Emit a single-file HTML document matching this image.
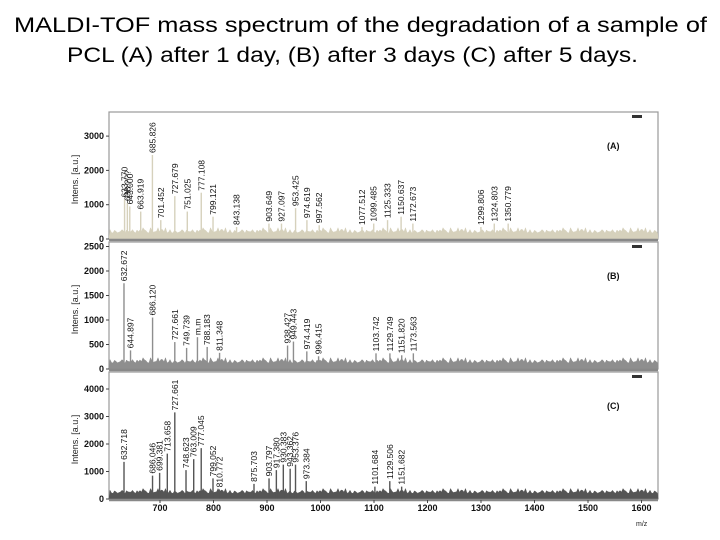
<!DOCTYPE html>
<html><head><meta charset="utf-8"><style>
html,body{margin:0;padding:0;background:#fff;}
svg{display:block;font-family:"Liberation Sans",sans-serif;}
</style></head><body>
<svg id="chart" width="720" height="540" viewBox="0 0 720 540">
<text x="14" y="32" font-size="21" textLength="693" lengthAdjust="spacingAndGlyphs" fill="#000">MALDI-TOF mass spectrum of the degradation of a sample of</text>
<text x="67" y="62" font-size="21" textLength="571" lengthAdjust="spacingAndGlyphs" fill="#000">PCL (A) after 1 day, (B) after 3 days (C) after 5 days.</text>
<g id="plots"></g>
</svg>
<script>
// x-axis ticks (m/z)
const xTicks = [700, 800, 900, 1000, 1100, 1200, 1300, 1400, 1500, 1600];
// panel A (1 day) peaks
const peaksA_mz = [633.77, 639.02, 643.5, 663.919, 685.826, 701.452, 727.679, 751.025, 777.108, 799.121, 843.138, 903.649, 927.097, 953.425, 974.619, 997.562, 1077.512, 1099.485, 1125.333, 1150.637, 1172.673, 1299.806, 1324.803, 1350.779];
const peaksA_int = [1150, 1050, 950, 800, 2450, 550, 1250, 800, 1350, 650, 350, 450, 450, 900, 550, 400, 350, 450, 550, 650, 450, 350, 450, 450];
const labelsA = ["633.770", "638.???", "643.000", "663.919", "685.826", "701.452", "727.679", "751.025", "777.108", "799.121", "843.138", "903.649", "927.097", "953.425", "974.619", "997.562", "1077.512", "1099.485", "1125.333", "1150.637", "1172.673", "1299.806", "1324.803", "1350.779"];
// panel B (3 days)
const peaksB_mz = [632.672, 644.897, 686.12, 727.661, 749.739, 770.0, 788.183, 811.348, 938.427, 949.443, 974.419, 996.415, 1103.742, 1129.749, 1151.82, 1173.563];
const peaksB_int = [1750, 380, 1050, 550, 430, 650, 450, 330, 480, 560, 360, 260, 320, 320, 280, 320];
const labelsB = ["632.672", "644.897", "686.120", "727.661", "749.739", "m.m", "788.183", "811.348", "938.427", "949.443", "974.419", "996.415", "1103.742", "1129.749", "1151.820", "1173.563"];
// panel C (5 days)
const peaksC_mz = [632.718, 686.046, 699.3, 713.658, 727.661, 748.623, 763.009, 777.045, 799.052, 810.772, 875.703, 903.797, 917.5, 930.5, 943.3, 953.3, 973.384, 1101.684, 1129.506, 1151.682];
const peaksC_int = [1350, 850, 950, 1650, 3150, 1050, 1450, 1850, 750, 350, 550, 750, 1050, 1250, 1100, 1250, 650, 450, 650, 450];
const labelsC = ["632.718", "686.046", "699.381", "713.658", "727.661", "748.623", "763.009", "777.045", "799.052", "810.772", "875.703", "903.797", "917.380", "930.383", "943.362", "953.376", "973.384", "1101.684", "1129.506", "1151.682"];
// y ticks per panel
const yTicksA = [0, 1000, 2000, 3000];
const yTicksB = [0, 500, 1000, 1500, 2000, 2500];
const yTicksC = [0, 1000, 2000, 3000, 4000];
// baseline noise texture (relative amplitudes)
const noisePattern = [0.6,0.9,0.4,1.0,0.7,0.3,0.8,0.5,1.0,0.6,0.2,0.9,0.7,0.4,0.8,1.0,0.5,0.3,0.9,0.6,0.7,0.4,1.0,0.8,0.5,0.2,0.7,0.9,0.6,0.3,0.8,0.5,0.95,0.4,0.7,0.6,0.3,0.85,0.5,0.75];

const NS = "http://www.w3.org/2000/svg";
const root = document.getElementById("plots");
const X0 = 109, X1 = 658;
const xScale = m => 160 + (m - 700) * 0.535;
function mk(tag, attrs, parent) {
  const e = document.createElementNS(NS, tag);
  for (const k in attrs) e.setAttribute(k, attrs[k]);
  (parent || root).appendChild(e);
  return e;
}
const panels = [
  {id:"a", top:112, y0:239, pxPer:0.0343, ticks:yTicksA, mz:peaksA_mz, ints:peaksA_int, labels:labelsA, color:"#d6d1bc", noise:300, tag:"(A)"},
  {id:"b", top:242, y0:369, pxPer:0.049, ticks:yTicksB, mz:peaksB_mz, ints:peaksB_int, labels:labelsB, color:"#8e8e8e", noise:210, tag:"(B)"},
  {id:"c", top:372, y0:499, pxPer:0.0275, ticks:yTicksC, mz:peaksC_mz, ints:peaksC_int, labels:labelsC, color:"#555555", noise:340, tag:"(C)"}
];
panels.forEach(p => {
  const g = mk("g", {});
  
  
  const yS = v => p.y0 - v * p.pxPer;
  const fr = mk("rect", {x:X0, y:p.top, width:X1-X0, height:p.y0-p.top, fill:"#fff", stroke:"#999", "stroke-width":1.2}, g);
  
  
  let d = "M" + X0 + "," + p.y0;
  let i = 0;
  for (let x = X0 + 1; x < X1; x += 1.5, i++) {
    const a = noisePattern[i % noisePattern.length];
    const b = noisePattern[(i * 7 + 3) % noisePattern.length];
    d += " L" + x.toFixed(1) + "," + (p.y0 - 2 - p.noise * p.pxPer * (0.3 + 0.7 * a * b)).toFixed(1);
  }
  d += " L" + X1 + "," + p.y0 + " Z";
  const nz = mk("path", {d:d, fill:p.color, stroke:p.color, "stroke-width":0.5}, g);
  
  
  p.mz.forEach((m, k) => {
    const x = xScale(m), yt = yS(p.ints[k]);
    const ln = mk("line", {x1:x, x2:x, y1:p.y0, y2:yt, stroke:p.color, "stroke-width":1.4}, g);
    
    
    const t = mk("text", {x:0, y:0, transform:"translate(" + (x + 3) + "," + (yt - 2) + ") rotate(-90)", "font-size":8.5, fill:"#111"}, g);
    t.textContent = p.labels[k];
    
    
  });
  const bl = mk("line", {x1:X0, x2:X1, y1:p.y0 + 1, y2:p.y0 + 1, stroke:"#888", "stroke-width":2.5}, g);
  
  
  p.ticks.forEach(v => {
    const y = yS(v);
    mk("line", {x1:X0 - 3, x2:X0, y1:y, y2:y, stroke:"#444", "stroke-width":1}, g);
    const t = mk("text", {x:X0 - 5, y:y + 3, "font-size":9, "font-weight":"bold", "text-anchor":"end", fill:"#111"}, g);
    t.textContent = v;
    
    
  });
  const yt = mk("text", {x:0, y:0, transform:"translate(" + 78 + "," + ((p.top + p.y0) / 2 + 4) + ") rotate(-90)", "font-size":9, "text-anchor":"middle", fill:"#222"}, g);
  yt.textContent = "Intens. [a.u.]";
  
  
  const tg = mk("text", {x:607, y:p.top + 37, "font-size":9, "font-weight":"bold", fill:"#111"}, g);
  tg.textContent = p.tag;
  
  
  const ms = mk("rect", {x:632, y:p.top + 3, width:10, height:3, fill:"#333"}, g);
  
  
});
xTicks.forEach(v => {
  const x = xScale(v);
  mk("line", {x1:x, x2:x, y1:500, y2:503, stroke:"#444"});
  const t = mk("text", {x:x, y:511, "font-size":9, "font-weight":"bold", "text-anchor":"middle", fill:"#111"});
  t.textContent = v;
  
  
});
const xt = mk("text", {x:636, y:526, "font-size":7, fill:"#222"});
xt.textContent = "m/z";


</script>
</body></html>
